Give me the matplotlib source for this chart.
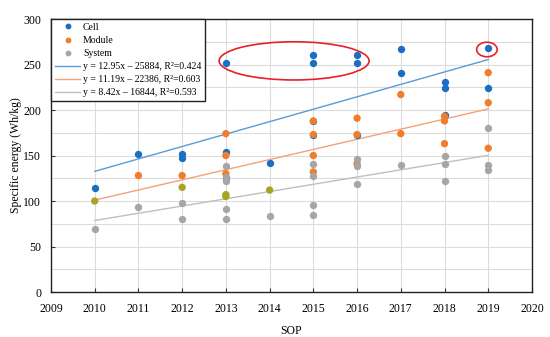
import numpy as np
import matplotlib
matplotlib.use("Agg")
import matplotlib.pyplot as plt
from matplotlib.patches import Ellipse
from matplotlib.lines import Line2D

# ---- data ----
cell_x = [2010, 2011, 2012, 2012, 2013, 2013, 2013, 2014, 2015, 2015, 2015, 2015,
          2016, 2016, 2016, 2017, 2017, 2018, 2018, 2018, 2019, 2019]
cell_y = [114, 152, 152, 147, 252, 154, 125, 142, 260, 252, 188, 173,
          260, 252, 173, 267, 241, 231, 224, 195, 268, 224]

module_x = [2010, 2011, 2012, 2012, 2013, 2013, 2013, 2013, 2013, 2014,
            2015, 2015, 2015, 2015, 2016, 2016, 2016, 2017, 2017,
            2018, 2018, 2018, 2019, 2019, 2019]
module_y = [100, 128, 128, 115, 174, 150, 130, 107, 105, 112,
            188, 173, 150, 132, 191, 173, 141, 217, 174,
            193, 188, 163, 241, 208, 158]
# points that appear olive-tinted in the reference
module_tint = [1, 0, 0, 1, 0, 0, 0, 1, 1, 1,
               0, 0, 0, 0, 0, 0, 0, 0, 0,
               0, 0, 0, 0, 0, 0]

system_x = [2010, 2011, 2012, 2012, 2013, 2013, 2013, 2013, 2013, 2014,
            2015, 2015, 2015, 2015, 2016, 2016, 2016, 2017,
            2018, 2018, 2018, 2019, 2019, 2019]
system_y = [69, 93, 98, 80, 138, 126, 122, 91, 80, 84,
            141, 128, 96, 85, 146, 138, 119, 140,
            150, 141, 122, 180, 140, 134]

trend_labels = ["y = 12.95x \u2013 25884, R\u00b2=0.424",
                "y = 11.19x \u2013 22386, R\u00b2=0.603",
                "y = 8.42x \u2013 16844, R\u00b2=0.593"]
series_names = ["Cell", "Module", "System"]

# ---- style ----
C_CELL = "#1a6fc4"
C_MOD = "#f07d2c"
C_SYS = "#a6a6a6"
C_OLIVE = "#aaa322"
L_CELL = "#5b9bd5"
L_MOD = "#f7a07a"
L_SYS = "#bfbfbf"

plt.rcParams['font.family'] = ['Liberation Serif', 'DejaVu Serif']

fig = plt.figure(figsize=(5.5, 3.37), dpi=100)
ax = fig.add_axes([0.0927, 0.1335, 0.8745, 0.8101])

ax.set_xlim(2009, 2020)
ax.set_ylim(0, 300)
ax.set_xticks(np.arange(2009, 2021, 1))
ax.set_yticks(np.arange(0, 301, 50))
ax.set_yticks(np.arange(0, 301, 25), minor=True)
ax.grid(True, which='both', color='#dcdcdc', linewidth=0.8)
ax.set_axisbelow(True)
ax.tick_params(axis='both', which='both', direction='in', length=3, labelsize=8.5, color='#333333')
ax.tick_params(axis='y', which='major', pad=7)
ax.tick_params(axis='x', which='major', pad=8)
ax.tick_params(axis='y', which='minor', length=0)
for s in ax.spines.values():
    s.set_color('#222222')
    s.set_linewidth(1.0)

ms = 28
ax.scatter(cell_x, cell_y, s=ms, color=C_CELL, zorder=3, linewidths=0)
mod_cols = [C_OLIVE if t else C_MOD for t in module_tint]
ax.scatter(module_x, module_y, s=ms, c=mod_cols, zorder=4, linewidths=0)
ax.scatter(system_x, system_y, s=ms, color=C_SYS, zorder=5, linewidths=0)

xs = np.array([2010, 2019])
for (xx, yy), col in zip([(cell_x, cell_y), (module_x, module_y), (system_x, system_y)],
                         [L_CELL, L_MOD, L_SYS]):
    k, b = np.polyfit(xx, yy, 1)
    ax.plot(xs, k * xs + b, color=col, linewidth=1.0, zorder=2)

# red annotation ellipses
ax.add_patch(Ellipse((2014.56, 254), 3.43, 42, fill=False, edgecolor='#e8202a', linewidth=1.2, zorder=6))
ax.add_patch(Ellipse((2018.97, 266.5), 0.47, 16, fill=False, edgecolor='#e8202a', linewidth=1.2, zorder=6))

handles = [
    Line2D([], [], linestyle='none', marker='o', markersize=3.2, color=C_CELL),
    Line2D([], [], linestyle='none', marker='o', markersize=3.2, color=C_MOD),
    Line2D([], [], linestyle='none', marker='o', markersize=3.2, color=C_SYS),
    Line2D([], [], color=L_CELL, linewidth=1.0),
    Line2D([], [], color=L_MOD, linewidth=1.0),
    Line2D([], [], color=L_SYS, linewidth=1.0),
]
labels = series_names + trend_labels
leg = ax.legend(handles, labels, loc='upper left', bbox_to_anchor=(0, 1), fontsize=7,
                frameon=True, fancybox=False, framealpha=1, edgecolor='#222222',
                borderpad=0.4, labelspacing=0.42, handlelength=2.6, handletextpad=0.3,
                borderaxespad=0)
leg.get_frame().set_linewidth(1.0)

ax.set_xlabel("SOP", fontsize=8.5, labelpad=7)
ax.set_ylabel("Specific energy (Wh/kg)", fontsize=8.5, labelpad=1)

fig.savefig("out.png", dpi=100)
